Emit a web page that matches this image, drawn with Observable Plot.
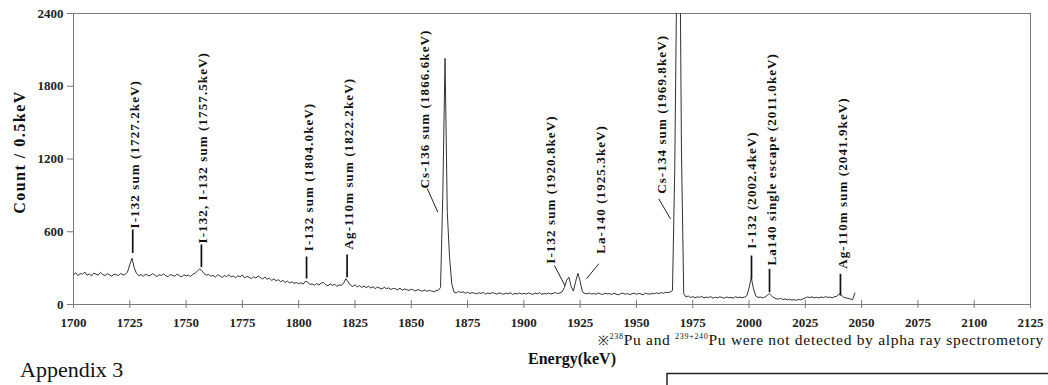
<!DOCTYPE html>
<html>
<head>
<meta charset="utf-8">
<script src="https://cdn.jsdelivr.net/npm/d3@7"></script>
<script src="https://cdn.jsdelivr.net/npm/@observablehq/plot@0.6"></script>
<style>
  body { margin: 0; background: #fff; }
  svg { font-family: "Liberation Serif", "Times New Roman", serif; }
</style>
</head>
<body>
<div id="chart"></div>
<script>
// Spectrum: counts per 0.5 keV channel, sampled every 1 keV starting at 1700 keV
const energyStart = 1700;
const counts = [
  245, 262, 238, 256, 249, 268, 241, 252, 235, 258,
  250, 243, 265, 247, 239, 255, 244, 233, 251, 246,
  238, 257, 242, 249, 268, 330, 382, 300, 256, 238,
  247, 232, 251, 241, 236, 255, 244, 230, 246, 239,
  252, 237, 229, 248, 240, 233, 251, 238, 226, 245,
  236, 243, 231, 249, 258, 276, 292, 279, 255, 241,
  248, 233, 240, 226, 244, 237, 222, 239, 230, 246,
  228, 235, 221, 238, 227, 243, 219, 232, 224, 214,
  229, 218, 236, 222, 210, 226, 208, 217, 199, 211,
  195, 204, 188, 199, 182, 193, 178, 187, 174, 181,
  172, 179, 168, 192, 186, 164, 170, 158, 173, 161,
  176, 182, 163, 155, 170, 158, 166, 150, 162, 157,
  178, 212, 186, 160, 148, 163, 145, 156, 141, 152,
  139, 150, 136, 147, 131, 144, 135, 128, 142, 130,
  137, 124, 133, 129, 121, 135, 118, 127, 122, 116,
  126, 119, 112, 124, 115, 110, 121, 108, 117, 111,
  106, 113, 118, 140, 900, 2030, 760, 390, 170, 102,
  96, 108, 99, 104, 93, 101, 90, 98, 94, 88,
  97, 91, 100, 86, 95, 89, 99, 92, 85, 96,
  90, 84, 94, 88, 97, 83, 91, 87, 95, 86,
  92, 85, 96, 89, 83, 94, 88, 97, 84, 91,
  87, 95, 86, 92, 98, 90, 96, 104, 140, 200,
  225, 150, 110, 190, 258, 190, 105, 92, 88, 94,
  86, 91, 84, 95, 88, 82, 93, 87, 90, 83,
  92, 86, 80, 89, 94, 85, 90, 82, 88, 93,
  84, 91, 87, 80, 94, 88, 85, 92, 89, 96,
  90, 98, 93, 101, 97, 104, 115, 1100, 2900, 3800,
  1250, 90, 62, 70, 58, 66, 55, 63, 59, 67,
  54, 61, 57, 65, 52, 60, 56, 63, 58, 51,
  62, 55, 59, 53, 64, 57, 61, 56, 60, 72,
  135, 222, 128, 70, 58, 62, 55, 60, 74, 90,
  72, 56, 48, 44, 50, 41, 46, 38, 43, 36,
  40, 35, 42, 38, 47, 55, 62, 57, 63, 55,
  60, 54, 62, 57, 65, 58, 61, 56, 64, 68,
  88, 78, 60, 55, 50, 45, 40, 95
];

const xTicks = [1700, 1725, 1750, 1775, 1800, 1825, 1850, 1875, 1900, 1925, 1950, 1975, 2000, 2025, 2050, 2075, 2100, 2125];
const yTicks = [0, 600, 1200, 1800, 2400];

// Peak annotations
const labelText = [
  "I-132 sum (1727.2keV)",
  "I-132, I-132 sum (1757.5keV)",
  "I-132 sum (1804.0keV)",
  "Ag-110m sum (1822.2keV)",
  "Cs-136 sum (1866.6keV)",
  "I-132 sum (1920.8keV)",
  "La-140 (1925.3keV)",
  "Cs-134 sum (1969.8keV)",
  "I-132 (2002.4keV)",
  "La140 single escape (2011.0keV)",
  "Ag-110m sum (2041.9keV)"
];
const labelEnergy = [1727.1, 1757.3, 1804.4, 1822.1, 1855.9, 1911.8, 1934.0, 1961.4, 2001.4, 2010.3, 2041.6];
const labelCount  = [627, 503, 440, 454, 957, 336, 418, 913, 459, 322, 294];
const leaderE1 = [1726.3, 1756.8, 1803.5, 1821.5, 1857.1, 1913.6, 1933.3, 1959.9, 2001.1, 2009.1, 2040.6];
const leaderC1 = [619, 495, 396, 412, 957, 322, 336, 872, 404, 294, 253];
const leaderE2 = [1726.3, 1756.8, 1803.5, 1821.5, 1861.8, 1918.2, 1927.8, 1965.1, 2001.1, 2009.1, 2040.6];
const leaderC2 = [425, 308, 214, 225, 761, 157, 212, 707, 212, 101, 74];

const spectrum = counts.map((c, i) => ({energy: energyStart + i, count: c}));
const labels = labelText.map((t, i) => ({text: t, energy: labelEnergy[i], count: labelCount[i]}));
const leaders = leaderE1.map((e, i) => ({
  x1: e, y1: leaderC1[i], x2: leaderE2[i], y2: leaderC2[i],
  vertical: e === leaderE2[i]
}));

const axisColor = "#7a7a7a";

const chart = Plot.plot({
  width: 1048,
  height: 385,
  marginLeft: 73,
  marginRight: 18,
  marginTop: 13,
  marginBottom: 81,
  style: {fontFamily: "'Liberation Serif', 'Times New Roman', serif", background: "#fff"},
  x: {domain: [1700, 2125], axis: null},
  y: {domain: [0, 2400], axis: null},
  marks: [
    Plot.frame({anchor: "top", stroke: axisColor}),
    Plot.frame({anchor: "right", stroke: axisColor}),
    Plot.ruleY([0], {stroke: axisColor}),
    Plot.ruleX([1700], {stroke: axisColor}),
    Plot.axisY({
      ticks: yTicks, tickSize: 6, tickPadding: 4, label: null, tickFormat: d => String(d),
      fontSize: 13, stroke: axisColor, color: "#222"
    }),
    Plot.axisX({
      ticks: xTicks, tickSize: 0, tickPadding: 13, label: null, tickFormat: d => String(d),
      fontSize: 13, color: "#222"
    }),
    Plot.ruleX(xTicks, {y1: 0, y2: 0, insetTop: -4, insetBottom: -4, stroke: axisColor}),
    Plot.line(spectrum, {x: "energy", y: "count", stroke: "#333", strokeWidth: 1, clip: true}),
    Plot.link(leaders.filter(d => d.vertical), {x1: "x1", y1: "y1", x2: "x2", y2: "y2", stroke: "#111", strokeWidth: 1.7}),
    Plot.link(leaders.filter(d => !d.vertical), {x1: "x1", y1: "y1", x2: "x2", y2: "y2", stroke: "#222", strokeWidth: 1}),
    Plot.text(labels, {
      x: "energy", y: "count", text: "text", rotate: -90, textAnchor: "start",
      fontSize: 13, fontWeight: "bold", fill: "#111"
    })
  ]
});

document.getElementById("chart").appendChild(chart);

const svg = d3.select(chart);
// Style tweaks: bold tick labels, spaced peak labels
svg.selectAll('g[aria-label$="tick label"] text').attr("font-weight", "bold");
svg.selectAll('g[aria-label="text"] text').attr("letter-spacing", "1.1px");

// Extra texts around the chart
svg.append("text")
  .attr("transform", "translate(21,152) rotate(-90)")
  .attr("text-anchor", "middle")
  .attr("dominant-baseline", "middle")
  .attr("font-size", 16).attr("font-weight", "bold")
  .attr("letter-spacing", "1.5px")
  .attr("fill", "#111")
  .text("Count / 0.5keV");

svg.append("text")
  .attr("x", 20).attr("y", 377)
  .attr("text-anchor", "start")
  .attr("font-size", 22)
  .attr("fill", "#111")
  .text("Appendix 3");

const note = svg.append("text")
  .attr("x", 1044).attr("y", 345)
  .attr("text-anchor", "end")
  .attr("font-size", 15.5)
  .attr("letter-spacing", "0.7px")
  .attr("fill", "#111");
note.append("tspan").attr("font-size", 13).text("※");
note.append("tspan").attr("font-size", 8).attr("dy", -6).text("238");
note.append("tspan").attr("dy", 6).text("Pu and ");
note.append("tspan").attr("font-size", 8).attr("dy", -6).text("239+240");
note.append("tspan").attr("dy", 6).text("Pu were not detected by alpha ray spectrometory");

svg.append("text")
  .attr("x", 528).attr("y", 364)
  .attr("text-anchor", "start")
  .attr("font-size", 16).attr("font-weight", "bold")
  .attr("fill", "#111")
  .text("Energy(keV)");

svg.append("path")
  .attr("d", "M667,390V373.5H1060")
  .attr("fill", "none")
  .attr("stroke", "#222")
  .attr("stroke-width", 1.5);
</script>
</body>
</html>
